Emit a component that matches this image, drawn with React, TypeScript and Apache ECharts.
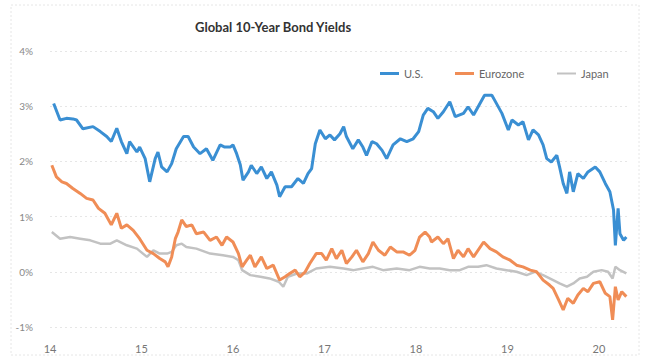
import React, { useEffect, useRef } from "react";
import * as echarts from "echarts";

const title = "Global 10-Year Bond Yields";
const seriesNames = ["U.S.", "Eurozone", "Japan"];
const yTicks = [-1, 0, 1, 2, 3, 4];

const usT = [2014.04, 2014.11, 2014.18, 2014.25, 2014.29, 2014.36, 2014.47, 2014.55, 2014.62, 2014.67, 2014.73, 2014.78, 2014.84, 2014.87, 2014.95, 2014.98, 2015.04, 2015.09, 2015.15, 2015.18, 2015.22, 2015.28, 2015.33, 2015.38, 2015.46, 2015.51, 2015.57, 2015.64, 2015.71, 2015.78, 2015.86, 2015.91, 2015.97, 2016.0, 2016.04, 2016.08, 2016.11, 2016.17, 2016.2, 2016.26, 2016.31, 2016.37, 2016.42, 2016.48, 2016.51, 2016.57, 2016.64, 2016.71, 2016.77, 2016.82, 2016.86, 2016.9, 2016.95, 2017.01, 2017.06, 2017.11, 2017.17, 2017.21, 2017.24, 2017.31, 2017.37, 2017.42, 2017.46, 2017.52, 2017.57, 2017.63, 2017.68, 2017.75, 2017.83, 2017.9, 2017.97, 2018.03, 2018.08, 2018.13, 2018.19, 2018.24, 2018.3, 2018.37, 2018.43, 2018.52, 2018.57, 2018.63, 2018.75, 2018.83, 2018.86, 2018.94, 2019.01, 2019.05, 2019.12, 2019.17, 2019.23, 2019.28, 2019.34, 2019.39, 2019.43, 2019.48, 2019.54, 2019.57, 2019.61, 2019.65, 2019.68, 2019.72, 2019.77, 2019.83, 2019.88, 2019.96, 2020.01, 2020.07, 2020.12, 2020.16, 2020.18, 2020.21, 2020.23, 2020.27, 2020.3];
const usV = [3.05, 2.75, 2.78, 2.77, 2.75, 2.59, 2.63, 2.54, 2.45, 2.36, 2.6, 2.36, 2.14, 2.36, 2.17, 2.26, 2.05, 1.63, 2.05, 2.17, 1.9, 1.81, 1.96, 2.23, 2.45, 2.45, 2.26, 2.14, 2.23, 2.02, 2.3, 2.26, 2.26, 2.3, 2.14, 1.94, 1.66, 1.81, 1.93, 1.78, 1.9, 1.69, 1.81, 1.57, 1.36, 1.54, 1.54, 1.69, 1.6, 1.78, 1.87, 2.32, 2.57, 2.41, 2.48, 2.39, 2.5, 2.63, 2.45, 2.23, 2.39, 2.26, 2.11, 2.36, 2.32, 2.2, 2.05, 2.3, 2.41, 2.36, 2.41, 2.54, 2.84, 2.96, 2.9, 2.78, 2.9, 3.08, 2.81, 2.87, 2.99, 2.84, 3.2, 3.2, 3.11, 2.87, 2.57, 2.75, 2.66, 2.72, 2.39, 2.57, 2.48, 2.3, 2.05, 1.99, 2.11, 1.9, 1.6, 1.42, 1.81, 1.45, 1.78, 1.69, 1.81, 1.9, 1.81, 1.6, 1.45, 1.12, 0.48, 1.15, 0.69, 0.57, 0.63];

const euT = [2014.02, 2014.07, 2014.13, 2014.18, 2014.25, 2014.33, 2014.4, 2014.47, 2014.53, 2014.6, 2014.67, 2014.73, 2014.78, 2014.84, 2014.91, 2014.98, 2015.06, 2015.13, 2015.2, 2015.26, 2015.29, 2015.33, 2015.37, 2015.4, 2015.44, 2015.49, 2015.55, 2015.6, 2015.68, 2015.75, 2015.82, 2015.88, 2015.93, 2016.0, 2016.06, 2016.1, 2016.15, 2016.19, 2016.24, 2016.31, 2016.37, 2016.44, 2016.51, 2016.57, 2016.62, 2016.68, 2016.73, 2016.79, 2016.84, 2016.91, 2016.97, 2017.02, 2017.08, 2017.13, 2017.19, 2017.24, 2017.3, 2017.35, 2017.42, 2017.48, 2017.53, 2017.59, 2017.66, 2017.72, 2017.79, 2017.86, 2017.93, 2017.99, 2018.04, 2018.1, 2018.15, 2018.17, 2018.24, 2018.3, 2018.35, 2018.41, 2018.46, 2018.52, 2018.57, 2018.63, 2018.74, 2018.81, 2018.88, 2018.95, 2019.03, 2019.1, 2019.17, 2019.25, 2019.32, 2019.39, 2019.46, 2019.5, 2019.56, 2019.61, 2019.66, 2019.72, 2019.77, 2019.83, 2019.88, 2019.94, 2020.01, 2020.07, 2020.12, 2020.15, 2020.18, 2020.21, 2020.25, 2020.3];
const euV = [1.93, 1.72, 1.63, 1.6, 1.51, 1.42, 1.33, 1.3, 1.15, 1.06, 0.85, 1.06, 0.79, 0.85, 0.75, 0.6, 0.39, 0.33, 0.24, 0.18, 0.09, 0.27, 0.6, 0.72, 0.94, 0.82, 0.85, 0.69, 0.72, 0.57, 0.63, 0.48, 0.63, 0.54, 0.33, 0.09, 0.21, 0.3, 0.09, 0.27, 0.06, 0.12, -0.15, -0.09, -0.03, 0.03, -0.09, 0.0, 0.15, 0.33, 0.33, 0.21, 0.42, 0.24, 0.39, 0.15, 0.27, 0.39, 0.18, 0.33, 0.54, 0.39, 0.3, 0.45, 0.36, 0.36, 0.3, 0.39, 0.63, 0.72, 0.63, 0.54, 0.63, 0.51, 0.6, 0.24, 0.39, 0.27, 0.42, 0.27, 0.54, 0.42, 0.36, 0.27, 0.21, 0.12, 0.09, 0.03, 0.0, -0.15, -0.24, -0.3, -0.51, -0.69, -0.48, -0.57, -0.42, -0.3, -0.36, -0.21, -0.18, -0.39, -0.45, -0.87, -0.27, -0.51, -0.36, -0.45];

const jpT = [2014.02, 2014.11, 2014.22, 2014.33, 2014.44, 2014.55, 2014.66, 2014.73, 2014.84, 2014.95, 2015.06, 2015.13, 2015.2, 2015.28, 2015.33, 2015.38, 2015.44, 2015.49, 2015.6, 2015.75, 2015.89, 2016.0, 2016.06, 2016.1, 2016.19, 2016.3, 2016.4, 2016.5, 2016.55, 2016.6, 2016.7, 2016.81, 2016.91, 2017.06, 2017.21, 2017.32, 2017.42, 2017.53, 2017.64, 2017.79, 2017.93, 2018.04, 2018.15, 2018.26, 2018.37, 2018.48, 2018.57, 2018.68, 2018.77, 2018.88, 2018.99, 2019.1, 2019.21, 2019.3, 2019.39, 2019.5, 2019.57, 2019.65, 2019.72, 2019.79, 2019.87, 2019.94, 2020.03, 2020.1, 2020.15, 2020.18, 2020.23, 2020.3];
const jpV = [0.72, 0.6, 0.63, 0.6, 0.57, 0.51, 0.51, 0.57, 0.48, 0.42, 0.27, 0.39, 0.33, 0.33, 0.36, 0.48, 0.51, 0.45, 0.42, 0.33, 0.3, 0.27, 0.21, 0.03, -0.06, -0.09, -0.12, -0.18, -0.27, -0.09, -0.03, -0.03, 0.06, 0.09, 0.06, 0.03, 0.06, 0.09, 0.03, 0.06, 0.03, 0.09, 0.06, 0.06, 0.03, 0.03, 0.09, 0.09, 0.12, 0.06, 0.03, 0.0, -0.06, 0.0, -0.06, -0.15, -0.21, -0.27, -0.21, -0.12, -0.09, 0.0, 0.03, 0.0, -0.12, 0.09, 0.03, -0.03];

const colors = ["#3a8fd3", "#f08d56", "#c2c2c2"];
const legendLeft = [375, 450, 552];

const zip = (t: number[], v: number[]) => t.map((x, i) => [x, v[i]]);

export default function App() {
  const ref = useRef<HTMLDivElement>(null);
  useEffect(() => {
    if (!ref.current) return;
    const chart = echarts.init(ref.current, undefined, { renderer: "svg" });
    const font = "Lato, 'Open Sans', sans-serif";
    chart.setOption({
      animation: false,
      backgroundColor: "#ffffff",
      title: {
        text: title,
        left: 190,
        top: 15,
        textStyle: { fontFamily: font, fontSize: 13, fontWeight: "bold", color: "#333" },
      },
      legend: seriesNames.map((n, i) => ({
        left: legendLeft[i],
        top: 63,
        itemWidth: 19,
        itemHeight: i === 2 ? 2 : 3,
        icon: "rect",
        textStyle: { fontFamily: font, fontSize: 11, color: "#666" },
        data: [n],
      })),
      graphic: [
        {
          type: "rect",
          shape: { x: 11, y: 5, width: 628, height: 350 },
          style: { fill: "none", stroke: "#e6e6e6", lineWidth: 1, lineDash: [2, 2] },
          silent: true,
        },
      ],
      grid: { left: 50, right: 18, top: 51, bottom: 33 },
      xAxis: {
        type: "value",
        min: 2014,
        max: 2020.34,
        interval: 1,
        axisLine: { show: false },
        axisTick: { show: false },
        splitLine: { show: false },
        axisLabel: {
          margin: 16,
          color: "#777",
          fontFamily: font,
          fontSize: 11,
          showMaxLabel: false,
          formatter: (v: number) => String(Math.round(v) % 100),
        },
      },
      yAxis: {
        type: "value",
        min: yTicks[0],
        max: yTicks[yTicks.length - 1],
        interval: 1,
        axisLine: { show: false },
        axisTick: { show: false },
        splitLine: { show: true, lineStyle: { color: "#e6e6e6", type: [2, 3], width: 1 } },
        axisLabel: {
          margin: 17,
          color: "#888",
          fontFamily: font,
          fontSize: 10,
          formatter: (v: number) => `${v}%`,
        },
      },
      series: [
        { name: seriesNames[0], type: "line", data: zip(usT, usV), showSymbol: false, lineStyle: { width: 3, color: colors[0] }, itemStyle: { color: colors[0] }, z: 3 },
        { name: seriesNames[1], type: "line", data: zip(euT, euV), showSymbol: false, lineStyle: { width: 3, color: colors[1] }, itemStyle: { color: colors[1] }, z: 2 },
        { name: seriesNames[2], type: "line", data: zip(jpT, jpV), showSymbol: false, lineStyle: { width: 2.5, color: colors[2] }, itemStyle: { color: colors[2] }, z: 1 },
      ],
    });
    return () => chart.dispose();
  }, []);
  return <div ref={ref} style={{ position: "fixed", left: 0, top: 0, width: 648, height: 360 }} />;
}
